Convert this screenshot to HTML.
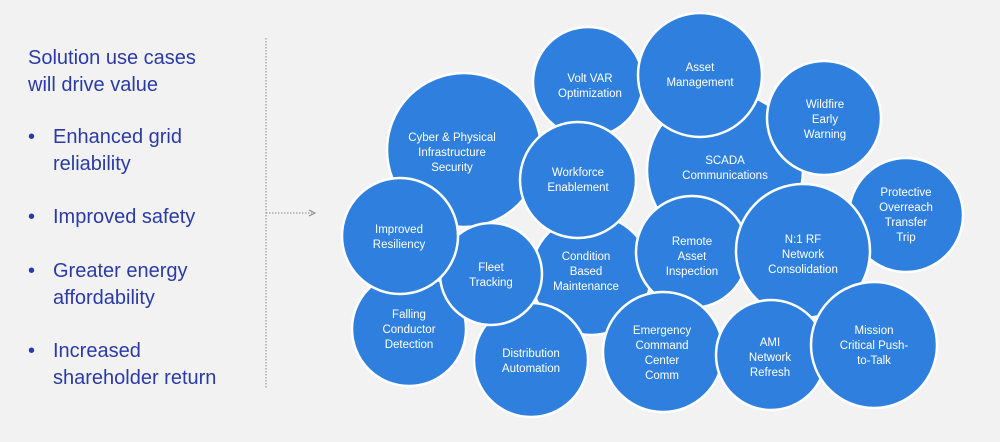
<!DOCTYPE html>
<html><head><meta charset="utf-8"><style>
body{margin:0;background:#f2f2f2;}
svg{display:block}
.l{font-family:"Liberation Sans",Arial,sans-serif;font-size:20px;fill:#2b3ba6}
.c text{font-family:"Liberation Sans",Arial,sans-serif;font-size:11.5px;fill:#fff;text-anchor:middle}
.c circle{fill:#2f80de;stroke:#fff;stroke-width:2.5}
</style></head><body>
<svg width="1000" height="442" viewBox="0 0 1000 442">
<rect width="1000" height="442" fill="#f2f2f2"/>
<text class="l" x="28" y="64">Solution use cases</text>
<text class="l" x="28" y="91">will drive value</text>
<text class="l" x="28" y="143">•</text><text class="l" x="53" y="143">Enhanced grid</text>
<text class="l" x="53" y="170">reliability</text>
<text class="l" x="28" y="223">•</text><text class="l" x="53" y="223">Improved safety</text>
<text class="l" x="28" y="277">•</text><text class="l" x="53" y="277">Greater energy</text>
<text class="l" x="53" y="304">affordability</text>
<text class="l" x="28" y="357">•</text><text class="l" x="53" y="357">Increased</text>
<text class="l" x="53" y="384">shareholder return</text>
<line x1="266" y1="38" x2="266" y2="388" stroke="#888" stroke-width="1" stroke-dasharray="1.5,1.5"/>
<line x1="266" y1="213" x2="312" y2="213" stroke="#888" stroke-width="1" stroke-dasharray="1.5,1.5"/>
<path d="M309,210 L315,213 L309,216" fill="none" stroke="#888" stroke-width="1"/>
<g class="c">
<circle cx="464" cy="150" r="77"/><text x="452" y="141">Cyber &amp; Physical</text><text x="452" y="156">Infrastructure</text><text x="452" y="171">Security</text>
<circle cx="588" cy="82" r="55"/><text x="590" y="82">Volt VAR</text><text x="590" y="97">Optimization</text>
<circle cx="725" cy="170" r="78"/><text x="725" y="164">SCADA</text><text x="725" y="179">Communications</text>
<circle cx="700" cy="75" r="62"/><text x="700" y="71">Asset</text><text x="700" y="86">Management</text>
<circle cx="824" cy="118" r="57"/><text x="825" y="108">Wildfire</text><text x="825" y="123">Early</text><text x="825" y="138">Warning</text>
<circle cx="591" cy="275" r="60"/><text x="586" y="260">Condition</text><text x="586" y="275">Based</text><text x="586" y="290">Maintenance</text>
<circle cx="578" cy="180" r="58"/><text x="578" y="176">Workforce</text><text x="578" y="191">Enablement</text>
<circle cx="409" cy="329" r="57"/><text x="409" y="318">Falling</text><text x="409" y="333">Conductor</text><text x="409" y="348">Detection</text>
<circle cx="531" cy="360" r="57"/><text x="531" y="357">Distribution</text><text x="531" y="372">Automation</text>
<circle cx="491" cy="274" r="51"/><text x="491" y="271">Fleet</text><text x="491" y="286">Tracking</text>
<circle cx="400" cy="236" r="58"/><text x="399" y="233">Improved</text><text x="399" y="248">Resiliency</text>
<circle cx="692" cy="252" r="56"/><text x="692" y="245">Remote</text><text x="692" y="260">Asset</text><text x="692" y="275">Inspection</text>
<circle cx="906" cy="215" r="57"/><text x="906" y="196">Protective</text><text x="906" y="211">Overreach</text><text x="906" y="226">Transfer</text><text x="906" y="241">Trip</text>
<circle cx="803" cy="251" r="67"/><text x="803" y="243">N:1 RF</text><text x="803" y="258">Network</text><text x="803" y="273">Consolidation</text>
<circle cx="663" cy="352" r="60"/><text x="662" y="334">Emergency</text><text x="662" y="349">Command</text><text x="662" y="364">Center</text><text x="662" y="379">Comm</text>
<circle cx="771" cy="355" r="55"/><text x="770" y="346">AMI</text><text x="770" y="361">Network</text><text x="770" y="376">Refresh</text>
<circle cx="874" cy="345" r="63"/><text x="874" y="334">Mission</text><text x="874" y="349">Critical Push-</text><text x="874" y="364">to-Talk</text>
</g>
</svg>
</body></html>
